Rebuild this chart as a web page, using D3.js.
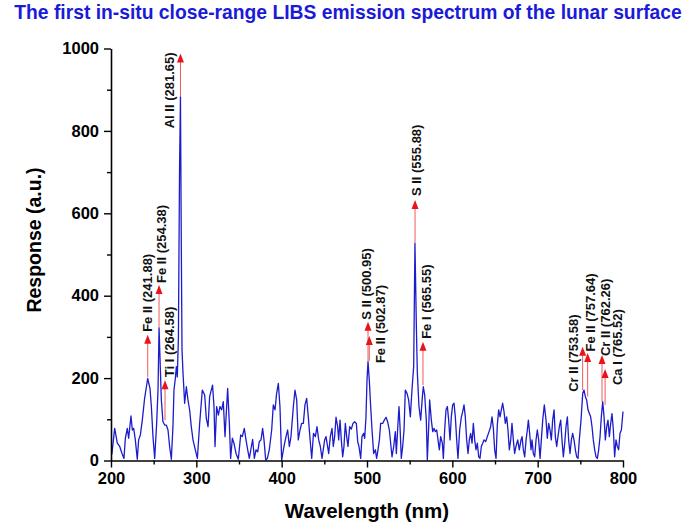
<!DOCTYPE html>
<html>
<head>
<meta charset="UTF-8" />
<title>Lunar LIBS spectrum</title>
<script src="https://d3js.org/d3.v7.min.js"></script>
<style>
body { margin: 0px; background: #fff; }
svg { font-family: "Liberation Sans", Arial, sans-serif; }
</style>
</head>
<body>
<svg id="chart" width="696" height="525"></svg>
<script>
// spectrum
const wavelength = [
  201, 204.3, 207.4, 210.2, 212.9, 215.2, 216.8, 219.1, 220.7, 223.4, 225.0, 226.6, 228.5, 230.8,
  232.4, 234.4, 236.7, 239.4, 243.0, 245.7, 247.3, 249.2, 251.2, 253.5, 255.1, 256.3, 259.0, 260.9,
  262.9, 264.8, 266.8, 268.7, 270.7, 272.6, 273.8, 275.4, 276.6, 277.7, 279.0, 280.3, 281.4, 282.4,
  283.2, 284.4, 286.3, 288.3, 290.2, 292.2, 294.1, 296.1, 298.8, 301.2, 303.9, 307.0, 309.8, 311.7,
  313.7, 315.6, 319.0, 320.7, 321.9, 323.8, 325.8, 327.7, 329.7, 331.6, 333.6, 336.7, 338.7, 340.2,
  342.2, 344.1, 346.5, 349.2, 352.0, 353.9, 356.2, 358.2, 360.2, 362.1, 364.5, 366.0, 368.0, 369.9,
  371.9, 373.8, 375.8, 377.7, 379.3, 381.3, 383.2, 385.5, 388.3, 390.2, 392.2, 394.1, 396.1, 398.0,
  400.0, 402.7, 405.1, 407.0, 409.0, 410.9, 413.7, 415.6, 417.6, 419.5, 421.5, 423.4, 425.4, 427.3,
  429.3, 431.2, 433.2, 435.2, 437.3, 439.5, 441.4, 443.4, 445.3, 447.3, 450.4, 452.0, 453.5, 455.1,
  457.0, 459.0, 460.5, 462.1, 463.7, 465.6, 466.8, 468.4, 469.9, 471.5, 473.0, 474.6, 476.2, 477.7,
  479.7, 481.6, 483.6, 485.5, 487.5, 489.1, 490.6, 492.6, 494.1, 496.1, 497.3, 498.8, 500.0, 501.2,
  502.7, 504.3, 505.9, 507.8, 509.8, 511.3, 512.9, 514.5, 516.0, 518.4, 520.3, 522.3, 524.2, 526.2,
  528.1, 529.3, 531.3, 533.2, 534.4, 536.3, 537.5, 538.7, 540.2, 541.8, 543.4, 544.9, 546.9, 548.8,
  550.8, 552.7, 554.7, 556.2, 557.8, 559.0, 560.9, 562.9, 564.9, 566.0, 567.6, 569.5, 570.7, 572.3,
  573.4, 575.4, 577.0, 578.5, 580.1, 581.7, 583.2, 584.8, 586.3, 588.3, 589.5, 591.0, 592.6, 594.2,
  595.7, 597.3, 598.8, 600.4, 602.0, 603.5, 605.1, 606.6, 608.6, 610.6, 612.1, 613.7, 615.2, 616.8,
  618.4, 619.9, 621.5, 623.1, 624.6, 626.2, 627.7, 629.3, 630.9, 632.4, 634.0, 635.6, 637.1, 639.1,
  641.0, 643.0, 644.9, 646.5, 648.1, 649.6, 651.2, 652.7, 654.3, 655.9, 657.4, 659.0, 660.6, 662.1,
  663.7, 665.2, 666.8, 668.4, 669.9, 671.5, 673.0, 674.6, 676.6, 678.5, 680.5, 681.7, 683.2, 684.8,
  686.4, 687.9, 689.1, 690.6, 692.2, 693.4, 694.9, 696.5, 698.1, 699.6, 701.2, 702.8, 704.3, 705.9,
  707.8, 709.8, 711.3, 712.9, 714.5, 716.0, 717.6, 719.2, 720.7, 722.3, 723.8, 725.4, 727.0, 728.5,
  730.1, 731.7, 733.2, 734.8, 736.3, 737.9, 739.5, 741.0, 742.6, 744.2, 745.7, 747.3, 748.8, 750.8,
  752.8, 754.3, 755.9, 757.4, 759.0, 760.6, 762.1, 763.7, 765.2, 766.8, 768.4, 769.9, 771.5, 773.1,
  774.6, 776.2, 777.8, 779.3, 780.9, 782.4, 784.0, 785.6, 787.1, 788.7, 790.2, 791.8, 793.4, 794.9,
  796.5, 798.1, 800.0
];
const response = [
  15, 78, 42, 34, 17, 5, 54, 78, 54, 108, 74, 78, 50, 3,
  50, 62, 98, 151, 199, 175, 131, 58, 5, 90, 171, 322, 147, 94,
  86, 86, 74, 34, 3, 82, 171, 199, 228, 203, 300, 700, 883, 520,
  270, 212, 139, 179, 147, 122, 82, 50, 26, 5, 90, 171, 159, 102,
  82, 155, 183, 131, 34, 131, 110, 131, 123, 143, 58, 175, 90, 5,
  54, 42, 17, 3, 62, 58, 78, 50, 26, 5, 34, 51, 5, 26,
  21, 46, 50, 78, 50, 1, 5, 26, 74, 135, 123, 163, 187, 131,
  1, 34, 58, 74, 34, 58, 131, 171, 147, 50, 74, 90, 90, 135,
  151, 106, 54, 5, 66, 58, 82, 50, 34, 5, 50, 58, 38, 17,
  58, 78, 34, 58, 105, 82, 50, 98, 50, 9, 34, 90, 58, 34,
  82, 76, 90, 94, 90, 46, 34, 5, 58, 66, 54, 106, 195, 240,
  195, 131, 74, 17, 26, 5, 26, 50, 90, 90, 98, 105, 94, 74,
  34, 9, 34, 70, 17, 90, 131, 82, 5, 34, 74, 171, 163, 147,
  106, 171, 228, 527, 330, 212, 131, 98, 155, 179, 159, 98, 1, 82,
  147, 98, 70, 78, 70, 74, 50, 26, 58, 42, 5, 74, 123, 131,
  98, 50, 106, 135, 139, 106, 50, 5, 74, 106, 118, 135, 106, 50,
  17, 50, 66, 42, 90, 50, 26, 42, 9, 5, 34, 42, 50, 46,
  58, 70, 82, 106, 78, 26, 5, 86, 123, 106, 123, 139, 118, 90,
  106, 74, 26, 50, 90, 50, 17, 34, 50, 26, 50, 58, 26, 9,
  50, 74, 98, 66, 26, 50, 17, 9, 50, 74, 50, 5, 50, 98,
  135, 98, 54, 90, 74, 50, 98, 123, 58, 34, 58, 82, 98, 50,
  9, 42, 82, 106, 50, 17, 50, 66, 50, 26, 9, 5, 50, 98,
  163, 171, 155, 147, 123, 114, 106, 82, 50, 26, 9, 5, 26, 58,
  106, 143, 106, 50, 82, 98, 58, 90, 114, 74, 9, 50, 34, 26,
  66, 74, 119
];

// emission line annotations
const lineLabels = ["Fe II (241.88)", "Fe II (254.38)", "Ti I (264.58)", "Al II (281.65)",
  "S II (500.95)", "Fe II (502.87)", "S II (555.88)", "Fe I (565.55)",
  "Cr II (753.58)", "Fe II (757.64)", "Cr II (762.26)", "Ca I (765.52)"];
const lineAt = [243.0, 256.3, 263.3, 281.4, 501.2, 502.7, 556.3, 565.6, 752.7, 758.6, 775.4, 779.0];
const lineBase = [203, 322, 98, 883, 240, 242, 528, 183, 171, 155, 143, 135];
const lineTip = [305, 426, 195, 988, 337, 302, 632, 288, 276, 261, 256, 222];

const xTicks = [200, 300, 400, 500, 600, 700, 800];
const yTicks = [0, 200, 400, 600, 800, 1000];

// label placement relative to arrow tip: [dx, dy, anchor]
const labelPos = [[0, -3, "start"], [2.5, -2, "start"], [4, -3, "start"], [-10.5, -1, "end"],
  [-2, -2, "start"], [10.7, 27, "start"], [1, -4, "start"], [4, -3, "start"],
  [-9.4, 45, "start"], [3.3, -1.5, "start"], [3, 1, "start"], [12, 16, "start"]];

const svg = d3.select("#chart");
const x = d3.scaleLinear().domain([200, 800]).range([111, 623]);
const y = d3.scaleLinear().domain([0, 1000]).range([460.5, 48.5]);

// title
svg.append("text")
  .attr("x", 348).attr("y", 19)
  .attr("text-anchor", "middle")
  .attr("font-size", 19.3).attr("font-weight", "bold")
  .attr("fill", "#1a1ad8")
  .text("The first in-situ close-range LIBS emission spectrum of the lunar surface");

// spectrum
const pts = wavelength.map((w, i) => [w, response[i]]);
svg.append("path")
  .datum(pts)
  .attr("fill", "none")
  .attr("stroke", "#1c1ccc")
  .attr("stroke-width", 1.3)
  .attr("stroke-linejoin", "round")
  .attr("d", d3.line().x(d => x(d[0])).y(d => y(d[1])));

// axes
let minorX = d3.range(250, 800, 100);
let minorY = d3.range(100, 1000, 200);

let gx = svg.append("g").attr("transform", "translate(0,460.5)");
gx.call(d3.axisBottom(x).tickValues(xTicks).tickFormat(d3.format("d"))
  .tickSize(7).tickSizeOuter(0).tickPadding(5));
gx.append("g").call(d3.axisBottom(x).tickValues(minorX).tickSize(4).tickFormat(""))
  .select(".domain").remove();

let gy = svg.append("g").attr("transform", "translate(111,0)");
gy.call(d3.axisLeft(y).tickValues(yTicks).tickFormat(d3.format("d"))
  .tickSize(7).tickSizeOuter(0).tickPadding(5));
gy.append("g").call(d3.axisLeft(y).tickValues(minorY).tickSize(4).tickFormat(""))
  .select(".domain").remove();

svg.selectAll(".domain").attr("stroke", "#000").attr("stroke-width", 1.6);
svg.selectAll(".tick line").attr("stroke", "#000").attr("stroke-width", 1.4);
svg.selectAll(".tick text")
  .attr("font-family", "'Liberation Sans', Arial, sans-serif")
  .attr("font-size", 16.5).attr("font-weight", "bold").attr("fill", "#000");

// axis titles
svg.append("text")
  .attr("x", 367).attr("y", 518)
  .attr("text-anchor", "middle")
  .attr("font-size", 20.5).attr("font-weight", "bold")
  .text("Wavelength (nm)");
svg.append("text")
  .attr("transform", "translate(41,240) rotate(-90)")
  .attr("text-anchor", "middle")
  .attr("font-size", 19.5).attr("font-weight", "bold")
  .text("Response (a.u.)");

// arrows and labels
lineLabels.forEach((lab, i) => {
  let ax = x(lineAt[i]);
  let yb = y(lineBase[i]);
  let yt = y(lineTip[i]);
  svg.append("line")
    .attr("x1", ax).attr("x2", ax)
    .attr("y1", yb).attr("y2", yt + 8)
    .attr("stroke", "#ee5a5a").attr("stroke-width", 1);
  svg.append("path")
    .attr("d", `M${ax},${yt} L${ax - 3.5},${yt + 9} L${ax + 3.5},${yt + 9} Z`)
    .attr("fill", "#e8141a");
  let [dx, dy, anchor] = labelPos[i];
  svg.append("text")
    .attr("transform", `translate(${ax + dx},${yt + dy}) rotate(-90)`)
    .attr("text-anchor", anchor)
    .attr("dominant-baseline", "central")
    .attr("font-size", 13).attr("font-weight", "bold")
    .attr("fill", "#111")
    .text(lab);
});
</script>
</body>
</html>
